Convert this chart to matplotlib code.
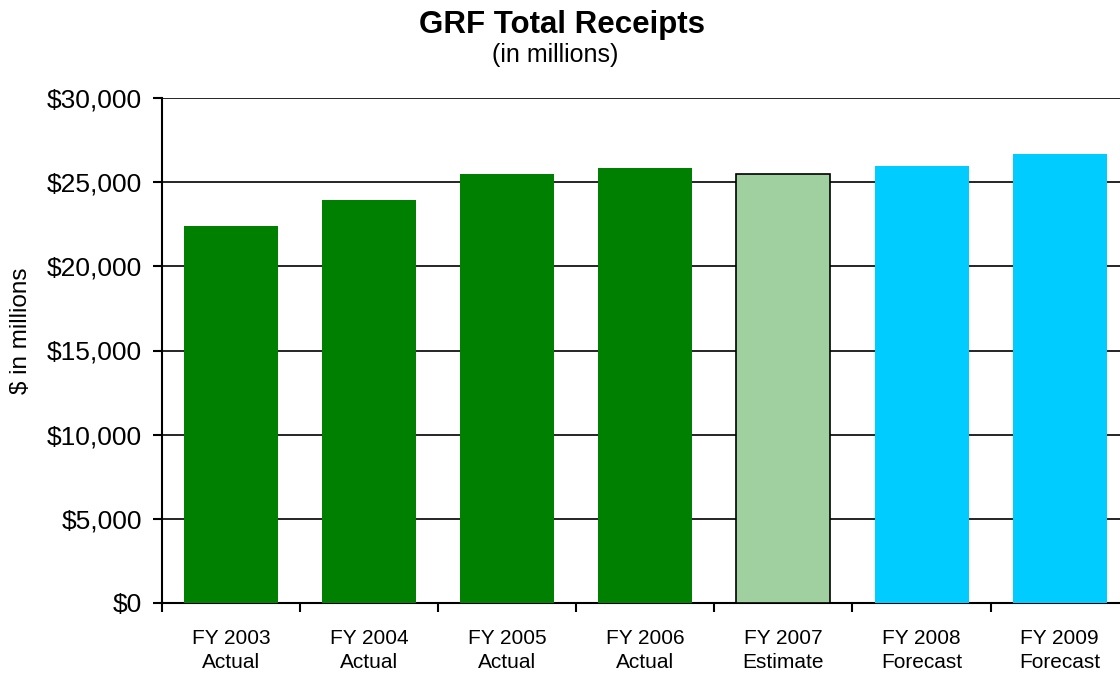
import matplotlib
matplotlib.use("Agg")
import matplotlib.pyplot as plt
from matplotlib.ticker import FuncFormatter, FixedLocator

categories = ["FY 2003\nActual", "FY 2004\nActual", "FY 2005\nActual", "FY 2006\nActual",
              "FY 2007\nEstimate", "FY 2008\nForecast", "FY 2009\nForecast"]
values = [22400, 23950, 25490, 25840, 25460, 25960, 26680]
colors = ["#008000", "#008000", "#008000", "#008000", "#A0CFA0", "#00CCFF", "#00CCFF"]
edges = ["none", "none", "none", "none", "black", "none", "none"]

plt.rcParams['font.family'] = ['Liberation Sans', 'DejaVu Sans']

fig = plt.figure(figsize=(11.2, 6.79), dpi=100)
ax = fig.add_axes([162/1120, 1 - 603/679, 7*138.1/1120, 505/679])

x = list(range(len(categories)))
for i, (v, c, e) in enumerate(zip(values, colors, edges)):
    ax.bar(i, v, width=0.68, color=c, edgecolor=e, linewidth=1.2 if e != "none" else 0, zorder=3)

ax.set_xlim(-0.5, len(categories) - 0.5)
ax.set_ylim(0, 30000)
ax.set_yticks(range(0, 30001, 5000))
ax.yaxis.set_major_formatter(FuncFormatter(lambda v, p: "${:,.0f}".format(v)))
ax.yaxis.grid(True, color="black", linewidth=1.2, zorder=0)

ax.set_xticks(x)
ax.set_xticklabels(categories, fontsize=15, linespacing=1.35)
ax.tick_params(axis='x', length=0, pad=18.5)
ax.xaxis.set_minor_locator(FixedLocator([i - 0.5 for i in range(len(categories) + 1)]))
ax.tick_params(axis='x', which='minor', length=6.5, width=1.5, direction='out')
ax.tick_params(axis='y', length=6.5, width=1.5, direction='out', labelsize=19, pad=8)

for s in ["top", "right"]:
    ax.spines[s].set_visible(False)
for s in ["left", "bottom"]:
    ax.spines[s].set_linewidth(1.5)

fig.text(21/1120, 1 - 331/679, "$ in millions", rotation=90, ha="center", va="center", fontsize=17.5)

fig.text(562/1120, 1 - 33/679, "GRF Total Receipts", ha="center", va="baseline", fontsize=22.5, fontweight="bold")
fig.text(555/1120, 1 - 62/679, "(in millions)", ha="center", va="baseline", fontsize=18)

fig.savefig("out.png", dpi=100)
